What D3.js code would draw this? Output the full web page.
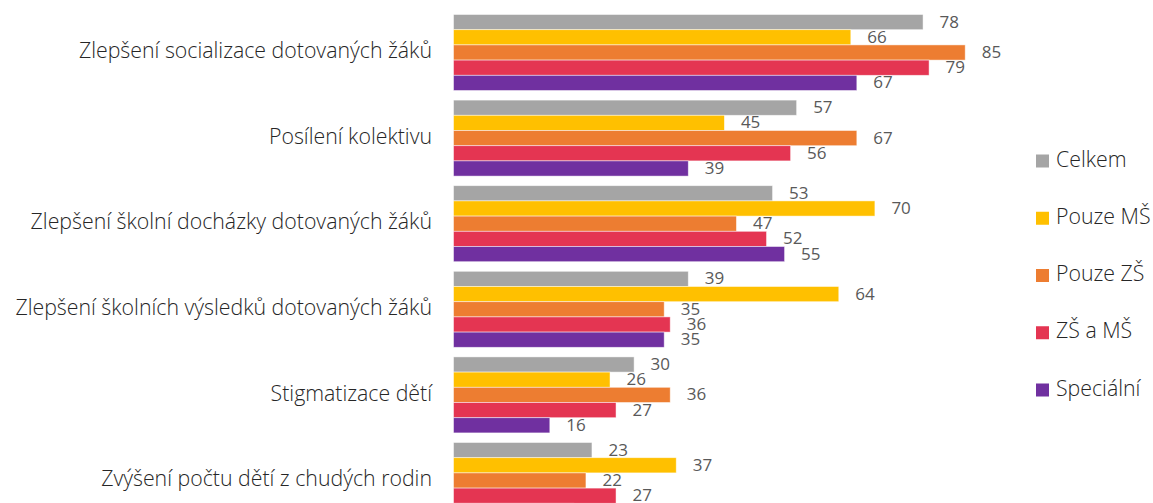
<!DOCTYPE html>
<html><head><meta charset="utf-8">
<script src="https://cdn.jsdelivr.net/npm/d3@7"></script>
<style>
html,body{margin:0;padding:0;background:#fff;overflow:hidden}
svg{display:block}
</style></head>
<body>
<svg id="chart" width="1153" height="503"></svg>
<script>
const categories = [
  "Zlepšení socializace dotovaných žáků",
  "Posílení kolektivu",
  "Zlepšení školní docházky dotovaných žáků",
  "Zlepšení školních výsledků dotovaných žáků",
  "Stigmatizace dětí",
  "Zvýšení počtu dětí z chudých rodin"
];
const seriesNames = ["Celkem", "Pouze MŠ", "Pouze ZŠ", "ZŠ a MŠ", "Speciální"];
const celkem    = [78, 57, 53, 39, 30, 23];
const pouzeMS   = [66, 45, 70, 64, 26, 37];
const pouzeZS   = [85, 67, 47, 35, 36, 22];
const zsAMs     = [79, 56, 52, 36, 27, 27];
const specialni = [67, 39, 55, 35, 16, 20];
const colors = ["#A5A5A5", "#FFC000", "#ED7D31", "#E43552", "#7030A0"];

const seriesValues = [celkem, pouzeMS, pouzeZS, zsAMs, specialni];
const data = categories.map((c, i) => ({
  cat: c,
  vals: seriesNames.map((s, j) => ({ s, v: seriesValues[j][i], j }))
}));

const svg = d3.select("#chart");
const FONT = "'Open Sans', 'Segoe UI', sans-serif";

const y = d3.scaleBand().domain(categories)
  .range([9.7, 9.7 + 6 * 85.6]).paddingInner(0.112).paddingOuter(0.056);
const ys = d3.scaleBand().domain(seriesNames).range([0, y.bandwidth()]).padding(0);
const x = d3.scaleLinear().domain([0, 100]).range([453.5, 1055.5]);

const g = svg.selectAll("g.grp").data(data).join("g")
  .attr("class", "grp")
  .attr("transform", d => `translate(0,${y(d.cat)})`);

g.selectAll("rect").data(d => d.vals).join("rect")
  .attr("x", x(0))
  .attr("y", d => ys(d.s))
  .attr("width", d => x(d.v) - x(0))
  .attr("height", ys.bandwidth())
  .attr("fill", d => colors[d.j])
  .attr("stroke", "#ffffff").attr("stroke-opacity", 0.6).attr("stroke-width", 0.8);

g.selectAll("text.val").data(d => d.vals).join("text")
  .attr("class", "val")
  .attr("x", d => x(d.v) + 16.5)
  .attr("y", d => ys(d.s) + ys.bandwidth() / 2 + 1)
  .attr("dominant-baseline", "middle")
  .attr("font-family", FONT).attr("font-size", 17)
  .attr("fill", "#595959")
  .text(d => d.v);

// category axis labels
svg.append("g").selectAll("text").data(categories).join("text")
  .attr("x", 432)
  .attr("y", d => y(d) + y.bandwidth() / 2)
  .attr("text-anchor", "end")
  .attr("dominant-baseline", "middle")
  .attr("font-family", FONT).attr("font-weight", 300).attr("font-size", 21.3)
  .attr("fill", "#262626")
  .text(d => d);

// legend
const legendY = d3.scalePoint().domain(seriesNames).range([161, 390]);
const lg = svg.append("g").selectAll("g").data(seriesNames).join("g")
  .attr("transform", d => `translate(1036,${legendY(d)})`);
lg.append("rect").attr("x", 0).attr("y", -6.5).attr("width", 13).attr("height", 13)
  .attr("fill", (d, i) => colors[i]);
lg.append("text").attr("x", 20).attr("y", 0)
  .attr("dominant-baseline", "middle")
  .attr("font-family", FONT).attr("font-weight", 300).attr("font-size", 21.3)
  .attr("fill", "#262626")
  .text(d => d);
</script>
</body></html>
